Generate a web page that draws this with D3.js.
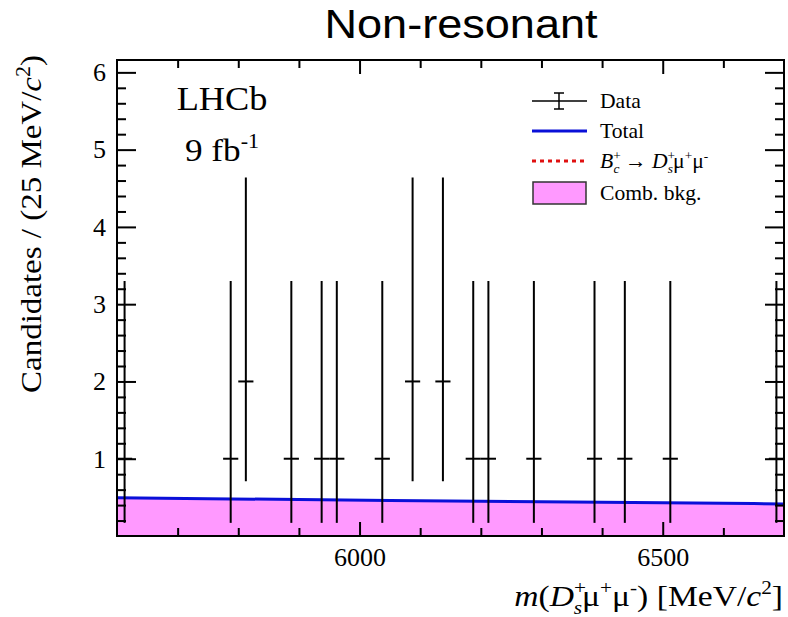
<!DOCTYPE html>
<html>
<head>
<meta charset="utf-8">
<script src="https://cdn.jsdelivr.net/npm/d3@7"></script>
<style>
  html, body { margin: 0; padding: 0; background: #fff; }
  svg { display: block; }
  .serif { font-family: "Liberation Serif", "Times New Roman", serif; }
</style>
</head>
<body>
<svg id="chart" width="788" height="617"></svg>
<script>
// Binned candidates (bin width 25 MeV/c^2), bin centres in MeV/c^2
const binCenters = [5612.5, 5787.5, 5812.5, 5887.5, 5937.5, 5962.5, 6037.5, 6087.5,
                    6137.5, 6187.5, 6212.5, 6287.5, 6387.5, 6437.5, 6512.5, 6687.5];
const counts     = [1, 1, 2, 1, 1, 1, 1, 2, 2, 1, 1, 1, 1, 1, 1, 1];
// Asymmetric Poisson uncertainties
const errLow  = [0.83, 0.83, 1.29, 0.83, 0.83, 0.83, 0.83, 1.29, 1.29, 0.83, 0.83, 0.83, 0.83, 0.83, 0.83, 0.83];
const errHigh = [2.30, 2.30, 2.64, 2.30, 2.30, 2.30, 2.30, 2.64, 2.64, 2.30, 2.30, 2.30, 2.30, 2.30, 2.30, 2.30];
const binWidth = 25;

// Fit components sampled along the mass axis
const fitMass  = [5600, 5750, 5900, 6050, 6200, 6350, 6500, 6650, 6700];
const fitTotal = [0.494, 0.483, 0.472, 0.461, 0.450, 0.440, 0.429, 0.419, 0.415];
const fitComb  = [0.494, 0.483, 0.472, 0.461, 0.450, 0.440, 0.429, 0.419, 0.415];

// Axis ticks
const xMajorTicks = [6000, 6500];
const xMinorTicks = [5700, 5800, 5900, 6100, 6200, 6300, 6400, 6600];
const yMajorTicks = [1, 2, 3, 4, 5, 6];
const yMinorTicks = d3.range(1, 31).map(i => +(i * 0.2).toFixed(1)).filter(v => v % 1 !== 0);

const svg = d3.select("#chart");
const L = 117, R = 784, T = 60, B = 536;

const x = d3.scaleLinear().domain([5600, 6700]).range([L, R]);
const y = d3.scaleLinear().domain([0, 6.16]).range([B, T]);

svg.append("clipPath").attr("id", "plotclip")
  .append("rect").attr("x", L).attr("y", T).attr("width", R - L).attr("height", B - T);

const plot = svg.append("g").attr("clip-path", "url(#plotclip)");

// Combinatorial background
plot.append("path")
  .datum(fitMass.map((m, i) => [m, fitComb[i]]))
  .attr("fill", "#ff99ff")
  .attr("d", d3.area().x(d => x(d[0])).y0(y(0)).y1(d => y(d[1])));

// Total fit
plot.append("path")
  .datum(fitMass.map((m, i) => [m, fitTotal[i]]))
  .attr("fill", "none")
  .attr("stroke", "#0a10d8")
  .attr("stroke-width", 3)
  .attr("d", d3.line().x(d => x(d[0])).y(d => y(d[1])));

// Data points with error bars
const pts = plot.append("g").attr("stroke", "#000").attr("stroke-width", 2);
binCenters.forEach((m, i) => {
  pts.append("line")
    .attr("x1", x(m)).attr("x2", x(m))
    .attr("y1", y(counts[i] - errLow[i])).attr("y2", y(counts[i] + errHigh[i]));
  pts.append("line")
    .attr("x1", x(m - binWidth / 2)).attr("x2", x(m + binWidth / 2))
    .attr("y1", y(counts[i])).attr("y2", y(counts[i]));
});

// Axes: inward ticks on all four sides
function drawTicks(axis, transform, vals, size, labels) {
  const g = svg.append("g").attr("transform", transform)
    .call(axis.tickValues(vals).tickSizeInner(-size).tickSizeOuter(0)
      .tickFormat(labels ? d3.format("d") : () => ""));
  g.select(".domain").remove();
  g.selectAll(".tick line").attr("stroke", "#000").attr("stroke-width", 2);
  return g;
}
const xb = drawTicks(d3.axisBottom(x).tickPadding(12), `translate(0,${B})`, xMajorTicks, 14, true);
drawTicks(d3.axisBottom(x), `translate(0,${B})`, xMinorTicks, 8, false);
drawTicks(d3.axisTop(x), `translate(0,${T})`, xMajorTicks, 14, false);
drawTicks(d3.axisTop(x), `translate(0,${T})`, xMinorTicks, 8, false);
const yl = drawTicks(d3.axisLeft(y).tickPadding(10), `translate(${L},0)`, yMajorTicks, 19, true);
drawTicks(d3.axisLeft(y), `translate(${L},0)`, yMinorTicks, 9, false);
drawTicks(d3.axisRight(y), `translate(${R},0)`, yMajorTicks, 19, false);
drawTicks(d3.axisRight(y), `translate(${R},0)`, yMinorTicks, 9, false);

[xb, yl].forEach(g => g.selectAll(".tick text")
  .attr("fill", "#000").attr("font-size", 26)
  .attr("font-family", "Liberation Serif, Times New Roman, serif"));
yl.selectAll(".tick text").attr("dx", -1);

// Frame
svg.append("rect").attr("x", L).attr("y", T).attr("width", R - L).attr("height", B - T)
  .attr("fill", "none").attr("stroke", "#000").attr("stroke-width", 2);

// Title
svg.append("text")
  .attr("transform", "translate(461,38) scale(1.1,1)")
  .attr("text-anchor", "middle")
  .attr("font-family", "Liberation Sans, Arial, sans-serif")
  .attr("font-size", 41)
  .attr("fill", "#000")
  .text("Non-resonant");

// Y axis title
const ylab = svg.append("text").attr("class", "serif")
  .attr("transform", "translate(41,224) rotate(-90) scale(1.1,1)")
  .attr("text-anchor", "middle").attr("font-size", 30).attr("fill", "#000");
ylab.append("tspan").text("Candidates / (25 MeV/");
ylab.append("tspan").attr("font-style", "italic").text("c");
ylab.append("tspan").attr("font-size", 20).attr("dy", -11).text("2");
ylab.append("tspan").attr("dy", 11).text(")");

// X axis title
const xlab = svg.append("text").attr("class", "serif")
  .attr("transform", "translate(783,606) scale(1.12,1)").attr("text-anchor", "end")
  .attr("font-size", 30).attr("fill", "#000");
xlab.append("tspan").attr("font-style", "italic").text("m");
xlab.append("tspan").text("(");
xlab.append("tspan").attr("font-style", "italic").text("D");
xlab.append("tspan").attr("font-size", 19).attr("dy", -12).text("+");
xlab.append("tspan").attr("font-size", 19).attr("font-style", "italic").attr("dx", -11).attr("dy", 20).text("s");
xlab.append("tspan").attr("dy", -8).text("μ");
xlab.append("tspan").attr("font-size", 19).attr("dy", -12).text("+");
xlab.append("tspan").attr("dy", 12).text("μ");
xlab.append("tspan").attr("font-size", 19).attr("dy", -12).text("-");
xlab.append("tspan").attr("dy", 12).text(") [MeV/");
xlab.append("tspan").attr("font-style", "italic").text("c");
xlab.append("tspan").attr("font-size", 19).attr("dy", -12).text("2");
xlab.append("tspan").attr("dy", 12).text("]");

// Experiment label
svg.append("text").attr("class", "serif")
  .attr("transform", "translate(222,110) scale(1.1,1)")
  .attr("text-anchor", "middle").attr("font-size", 33).attr("fill", "#000").text("LHCb");
const lumi = svg.append("text").attr("class", "serif")
  .attr("transform", "translate(222,161) scale(1.1,1)")
  .attr("text-anchor", "middle").attr("font-size", 32).attr("fill", "#000");
lumi.append("tspan").text("9 fb");
lumi.append("tspan").attr("font-size", 20).attr("dy", -13).text("-1");

// Legend
const legend = svg.append("g").attr("class", "serif").attr("font-size", 21).attr("fill", "#000");
const lx0 = 532, lx1 = 587, tx = 600;
const rows = [101, 131, 161, 193];
function legendText(row) {
  return legend.append("text").attr("transform", `translate(${tx},${row + 7}) scale(1.03,1)`);
}
// Data
legend.append("line").attr("x1", lx0).attr("x2", lx1).attr("y1", rows[0]).attr("y2", rows[0])
  .attr("stroke", "#000").attr("stroke-width", 1.5);
legend.append("line").attr("x1", 559).attr("x2", 559).attr("y1", rows[0] - 8).attr("y2", rows[0] + 8)
  .attr("stroke", "#000").attr("stroke-width", 1.5);
[rows[0] - 8, rows[0] + 8].forEach(yy => legend.append("line")
  .attr("x1", 554).attr("x2", 564).attr("y1", yy).attr("y2", yy)
  .attr("stroke", "#000").attr("stroke-width", 1.5));
legendText(rows[0]).text("Data");
// Total
legend.append("line").attr("x1", lx0).attr("x2", lx1).attr("y1", rows[1]).attr("y2", rows[1])
  .attr("stroke", "#0a10d8").attr("stroke-width", 3);
legendText(rows[1]).text("Total");
// Signal
legend.append("line").attr("x1", lx0).attr("x2", lx1).attr("y1", rows[2]).attr("y2", rows[2])
  .attr("stroke", "#e01010").attr("stroke-width", 3).attr("stroke-dasharray", "4,4");
const sig = legendText(rows[2]);
sig.append("tspan").attr("font-style", "italic").text("B");
sig.append("tspan").attr("font-size", 13).attr("dy", -8).text("+");
sig.append("tspan").attr("font-size", 13).attr("font-style", "italic").attr("dx", -7).attr("dy", 13).text("c");
sig.append("tspan").attr("dy", -5).text(" → ");
sig.append("tspan").attr("font-style", "italic").text("D");
sig.append("tspan").attr("font-size", 13).attr("dy", -8).text("+");
sig.append("tspan").attr("font-size", 13).attr("font-style", "italic").attr("dx", -7).attr("dy", 13).text("s");
sig.append("tspan").attr("dy", -5).text("μ");
sig.append("tspan").attr("font-size", 13).attr("dy", -8).text("+");
sig.append("tspan").attr("dy", 8).text("μ");
sig.append("tspan").attr("font-size", 13).attr("dy", -8).text("-");
// Combinatorial
legend.append("rect").attr("x", lx0 + 1).attr("y", rows[3] - 11).attr("width", lx1 - lx0 - 2).attr("height", 22)
  .attr("fill", "#ff99ff").attr("stroke", "#333").attr("stroke-width", 1.5);
legendText(rows[3]).text("Comb. bkg.");
</script>
</body>
</html>
